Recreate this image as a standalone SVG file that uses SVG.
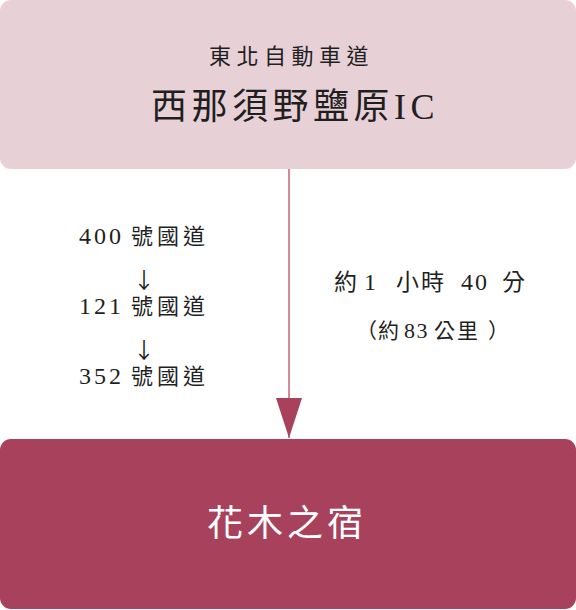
<svg xmlns="http://www.w3.org/2000/svg" width="576" height="610" viewBox="0 0 576 610">
<style>
text{font-family:"Liberation Serif","Noto Sans CJK TC",serif;fill:#1f1f1f}
.num{font-size:24px;letter-spacing:3px}
.cjk{font-size:22px;letter-spacing:4px}
.arr{font-family:"Noto Sans CJK TC",sans-serif;font-size:22px;text-anchor:middle}
.t1c{font-size:23px;letter-spacing:2px}
.t1n{font-size:24px;letter-spacing:2px}
.t2c{font-size:21px;letter-spacing:2px}
.t2n{font-size:22px;letter-spacing:1.5px}
</style>
<defs>
<marker id="ah" markerUnits="userSpaceOnUse" markerWidth="40" markerHeight="26" refX="40" refY="13" orient="auto" viewBox="0 0 40 26">
<path d="M0,0 L40,13 L0,26 Z" fill="#a8425c"/>
</marker>
</defs>
<rect width="576" height="610" fill="#ffffff"/>
<g id="node-start">
<rect x="0" y="0" width="576" height="169" rx="11" fill="#e8d0d7"/>
<text x="209" y="64" style="font-size:22px;letter-spacing:5.5px">東北自動車道</text>
<text x="151" y="119" style="font-size:36px;letter-spacing:4.5px">西那須野鹽原IC</text>
</g>
<g id="node-end">
<rect x="0" y="439" width="576" height="170" rx="11" fill="#a8425c"/>
<text x="207" y="536" style="font-size:36px;letter-spacing:4px;fill:#ffffff">花木之宿</text>
</g>
<g id="connectors">
<path d="M289,169 V438" stroke="#c8607a" stroke-width="1.5" fill="none" marker-end="url(#ah)"/>
</g>
<g id="route-labels">
<text y="244"><tspan x="79" class="num">400</tspan><tspan x="131" class="cjk">號國道</tspan></text>
<text x="144" y="288" class="arr">↓</text>
<text y="314"><tspan x="79" class="num">121</tspan><tspan x="131" class="cjk">號國道</tspan></text>
<text x="144" y="358" class="arr">↓</text>
<text y="384"><tspan x="79" class="num">352</tspan><tspan x="131" class="cjk">號國道</tspan></text>
</g>
<g id="time-labels">
<text y="290"><tspan x="334" class="t1c">約</tspan><tspan x="364" class="t1n">1</tspan><tspan x="396" class="t1c">小時</tspan><tspan x="461" class="t1n">40</tspan><tspan x="502" class="t1c">分</tspan></text>
<text y="338"><tspan x="356" class="t2c">（</tspan><tspan x="378" class="t2c">約</tspan><tspan x="404" class="t2n">83</tspan><tspan x="434" class="t2c">公里</tspan><tspan x="488" class="t2c">）</tspan></text>
</g>
</svg>
